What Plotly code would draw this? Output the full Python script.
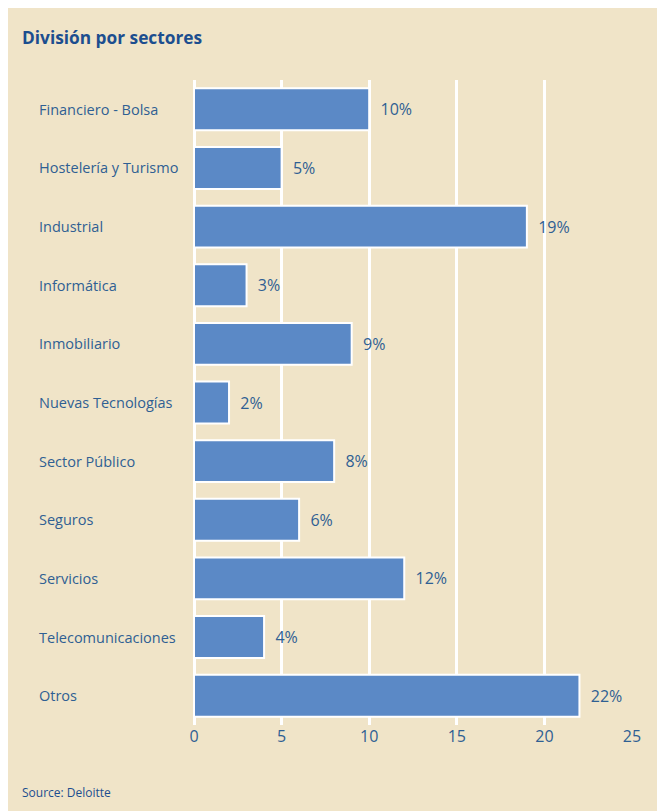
import plotly.graph_objects as go

# ── Data ──────────────────────────────────────────────────────────────────────
sectors = [
    "Financiero - Bolsa", "Hostelería y Turismo", "Industrial", "Informática",
    "Inmobiliario", "Nuevas Tecnologías", "Sector Público", "Seguros",
    "Servicios", "Telecomunicaciones", "Otros",
]
shares = [10, 5, 19, 3, 9, 2, 8, 6, 12, 4, 22]
x_ticks = [0, 5, 10, 15, 20, 25]

BEIGE = "#F0E4C8"
BAR = "#5B89C6"
TEXT = "#2F5F93"
TITLE = "#1C4E8F"
FONT = "Open Sans, Noto Sans, sans-serif"

# page has an 8px body margin, so everything is placed 8px up/left
W, H = 665, 811
L, R, T, B = 186, 41, 72, 94
pw, ph = W - L - R, H - T - B


def px_x(p):
    return (p - L) / pw


def px_y(p):
    return 1 - (p - T) / ph


fig = go.Figure(go.Bar(
    x=shares, y=sectors, orientation="h",
    marker=dict(color=BAR, line=dict(color="white", width=2)),
    width=0.715,
    text=[f"{v}%" for v in shares],
    texttemplate="  %{text}",
    textposition="outside",
    textfont=dict(family=FONT, size=16, color=TEXT),
    cliponaxis=False,
    hoverinfo="skip",
))

# left-aligned category labels
for s in sectors:
    fig.add_annotation(
        x=px_x(29), xref="paper", y=s, yref="y",
        text=s, showarrow=False, xanchor="left", yanchor="middle",
        font=dict(family=FONT, size=14.5, color=TEXT),
    )

fig.add_annotation(x=px_x(12), xref="paper", y=px_y(29), yref="paper",
                   text="<b>División por sectores</b>",
                   showarrow=False, xanchor="left", yanchor="middle",
                   font=dict(family=FONT, size=17.3, color=TITLE))
fig.add_annotation(x=px_x(12), xref="paper", y=px_y(784), yref="paper",
                   text="Source: Deloitte",
                   showarrow=False, xanchor="left", yanchor="middle",
                   font=dict(family=FONT, size=12, color=TITLE))

fig.update_layout(
    width=W, height=H,
    margin=dict(l=L, r=R, t=T, b=B),
    paper_bgcolor=BEIGE, plot_bgcolor=BEIGE,
    showlegend=False,
    xaxis=dict(range=[0, 25], tickvals=x_ticks, showgrid=True,
               gridcolor="white", gridwidth=2.5, zeroline=True,
               zerolinecolor="white", zerolinewidth=2.5, showline=False,
               tickfont=dict(family=FONT, size=16, color=TEXT),
               ticks="", fixedrange=True),
    yaxis=dict(autorange="reversed", showticklabels=False, showgrid=False,
               zeroline=False, fixedrange=True),
)

fig.write_html("out.html")
